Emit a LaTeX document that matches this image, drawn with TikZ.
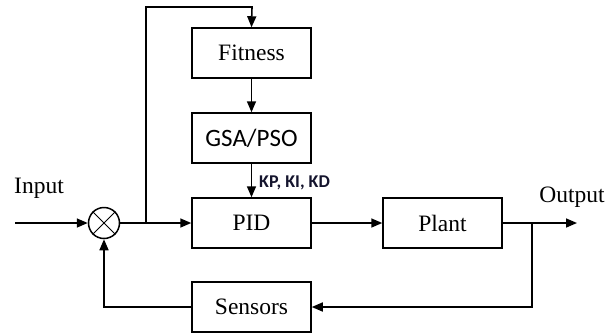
\documentclass[tikz,border=0pt]{standalone}
\usepackage{fontspec}
\setmainfont{Liberation Serif}
\newfontfamily\calib{Carlito}
\usetikzlibrary{arrows.meta}
\definecolor{kcol}{RGB}{20,20,45}
\begin{document}
\begin{tikzpicture}[x=1pt,y=-1pt,
  blk/.style={draw,line width=1.5pt,minimum width=119pt,minimum height=50pt,inner sep=0pt,font=\fontsize{23.5}{25}\selectfont},
  conn/.style={line width=1.6pt,-{Triangle[length=11pt,width=9pt]}},
  lbl/.style={inner sep=0pt,font=\fontsize{23.5}{25}\selectfont}]
\useasboundingbox (0,0) rectangle (616,333);
\node[blk] (fit) at (251.5,53) {Fitness};
\node[blk,font=\calib\fontsize{25}{27}\selectfont] (gsa) at (251.5,138) {GSA/PSO};
\node[blk] (pid) at (251.5,223) {PID};
\node[blk] (plant) at (442.5,223) {Plant};
\node[blk] (sen) at (251.5,307) {Sensors};
\node[draw,circle,line width=1.5pt,minimum size=31pt,inner sep=0pt] (sum) at (104,223) {};
\draw[line width=1pt] (sum.north west) -- (sum.south east) (sum.north east) -- (sum.south west);
\coordinate (in) at (15,223);
\coordinate (br) at (146,223);
\coordinate (top) at (146,7);
\coordinate (topr) at (252,7);
\coordinate (ob) at (532,223);
\coordinate (out) at (577,223);
\node[lbl,anchor=base] (inl) at (39,193) {Input};
\node[lbl,anchor=base] (outl) at (572,202) {Output};
\node[inner sep=0pt,anchor=west,text=kcol,font=\calib\bfseries\fontsize{18}{20}\selectfont] (kl) at (259,183) {KP, KI, KD};
\draw[conn] (in) -- (sum.west);
\draw[conn] (sum.east) -- (pid.west);
\draw[conn] (br) -- (top) -- (topr) -- (fit.north);
\draw[conn] (fit) -- (gsa);
\draw[conn] (gsa) -- (pid);
\draw[conn] (pid) -- (plant);
\draw[conn] (plant.east) -- (out);
\draw[conn] (ob) |- (sen.east);
\draw[conn] (sen.west) -| (sum.south);
\end{tikzpicture}
\end{document}
